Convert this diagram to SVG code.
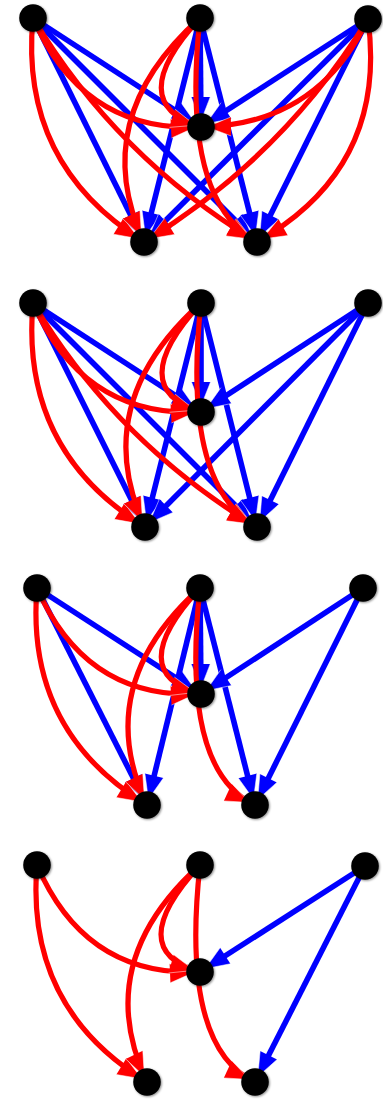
<svg xmlns="http://www.w3.org/2000/svg" width="383" height="1100" viewBox="0 0 383 1100">
  <style>
    .blue { fill: none; stroke: #0000ff; stroke-width: 5.6; }
    .red { fill: none; stroke: #ff0000; stroke-width: 5.2; }
    .blue { marker-end: url(#arrow-blue); }
    .red { marker-end: url(#arrow-red); }
    .node circle { fill: #000; filter: url(#node-shadow); }
  </style>
  <defs>
    <!-- arrowheads: path ends at the target centre, tip sits just inside the node rim -->
    <marker id="arrow-blue" markerUnits="userSpaceOnUse" orient="auto" refX="30" refY="0" markerWidth="40" markerHeight="40" overflow="visible">
      <polygon points="0,-9.5 24,0 0,9.5" fill="#0000ff"/>
      <polyline points="0,-9.5 24,0 0,9.5" fill="none" stroke="#fff" stroke-width="0.8" stroke-opacity="0.6"/>
    </marker>
    <marker id="arrow-red" markerUnits="userSpaceOnUse" orient="auto" refX="30" refY="0" markerWidth="40" markerHeight="40" overflow="visible">
      <polygon points="0,-9.5 24,0 0,9.5" fill="#ff0000"/>
      <polyline points="0,-9.5 24,0 0,9.5" fill="none" stroke="#fff" stroke-width="0.8" stroke-opacity="0.6"/>
    </marker>
    <filter id="node-shadow" x="-50%" y="-50%" width="200%" height="200%">
      <feDropShadow dx="1" dy="1" stdDeviation="1.2" flood-color="#000" flood-opacity="0.45"/>
    </filter>
  </defs>

  <!-- ===== graph 1 ===== -->
  <g id="graph1">
    <g id="graph1-edges">
      <path class="blue" d="M33,18 L201,127"/>
      <path class="blue" d="M33,18 L144,242"/>
      <path class="blue" d="M33,18 L257,242"/>
      <path class="blue" d="M200,18 L144,242"/>
      <path class="blue" d="M200,18 L201,127"/>
      <path class="blue" d="M200,18 L257,242"/>
      <path class="blue" d="M368,19 L201,127"/>
      <path class="blue" d="M368,19 L144,242"/>
      <path class="blue" d="M368,19 L257,242"/>
      <path class="red" d="M33,18 Q19,164 144,242"/>
      <path class="red" d="M33,18 Q83,133 201,127"/>
      <path class="red" d="M33,18 Q117,158 257,242"/>
      <path class="red" d="M200,18 Q87,119 144,242"/>
      <path class="red" d="M200,18 Q122,103 201,127"/>
      <path class="red" d="M200,18 Q180,200 257,242"/>
      <path class="red" d="M368,19 Q318,125 201,127"/>
      <path class="red" d="M368,19 Q283,157 144,242"/>
      <path class="red" d="M368,19 Q388,168 257,242"/>
    </g>
    <g id="graph1-a" class="node"><circle cx="33" cy="18" r="13.8"/></g>
    <g id="graph1-b" class="node"><circle cx="200" cy="18" r="13.8"/></g>
    <g id="graph1-c" class="node"><circle cx="368" cy="19" r="13.8"/></g>
    <g id="graph1-m" class="node"><circle cx="201" cy="127" r="13.8"/></g>
    <g id="graph1-l" class="node"><circle cx="144" cy="242" r="13.8"/></g>
    <g id="graph1-r" class="node"><circle cx="257" cy="242" r="13.8"/></g>
  </g>

  <!-- ===== graph 2 ===== -->
  <g id="graph2">
    <g id="graph2-edges">
      <path class="blue" d="M33,303 L201,412"/>
      <path class="blue" d="M33,303 L145,527"/>
      <path class="blue" d="M33,303 L257,527"/>
      <path class="blue" d="M201,303 L145,527"/>
      <path class="blue" d="M201,303 L201,412"/>
      <path class="blue" d="M201,303 L257,527"/>
      <path class="blue" d="M368,303 L201,412"/>
      <path class="blue" d="M368,303 L145,527"/>
      <path class="blue" d="M368,303 L257,527"/>
      <path class="red" d="M33,303 Q20,450 145,527"/>
      <path class="red" d="M33,303 Q83,418 201,412"/>
      <path class="red" d="M33,303 Q117,443 257,527"/>
      <path class="red" d="M201,303 Q88,404 145,527"/>
      <path class="red" d="M201,303 Q123,388 201,412"/>
      <path class="red" d="M201,303 Q181,485 257,527"/>
    </g>
    <g id="graph2-a" class="node"><circle cx="33" cy="303" r="13.8"/></g>
    <g id="graph2-b" class="node"><circle cx="201" cy="303" r="13.8"/></g>
    <g id="graph2-c" class="node"><circle cx="368" cy="303" r="13.8"/></g>
    <g id="graph2-m" class="node"><circle cx="201" cy="412" r="13.8"/></g>
    <g id="graph2-l" class="node"><circle cx="145" cy="527" r="13.8"/></g>
    <g id="graph2-r" class="node"><circle cx="257" cy="527" r="13.8"/></g>
  </g>

  <!-- ===== graph 3 ===== -->
  <g id="graph3">
    <g id="graph3-edges">
      <path class="blue" d="M37,588 L201,694"/>
      <path class="blue" d="M37,588 L147,805"/>
      <path class="blue" d="M200,588 L147,805"/>
      <path class="blue" d="M200,588 L201,694"/>
      <path class="blue" d="M200,588 L255,805"/>
      <path class="blue" d="M363,588 L201,694"/>
      <path class="blue" d="M363,588 L255,805"/>
      <path class="red" d="M37,588 Q25,731 147,805"/>
      <path class="red" d="M37,588 Q86,700 201,694"/>
      <path class="red" d="M200,588 Q91,686 147,805"/>
      <path class="red" d="M200,588 Q122,673 201,694"/>
      <path class="red" d="M200,588 Q180,770 255,805"/>
    </g>
    <g id="graph3-a" class="node"><circle cx="37" cy="588" r="13.8"/></g>
    <g id="graph3-b" class="node"><circle cx="200" cy="588" r="13.8"/></g>
    <g id="graph3-c" class="node"><circle cx="363" cy="588" r="13.8"/></g>
    <g id="graph3-m" class="node"><circle cx="201" cy="694" r="13.8"/></g>
    <g id="graph3-l" class="node"><circle cx="147" cy="805" r="13.8"/></g>
    <g id="graph3-r" class="node"><circle cx="255" cy="805" r="13.8"/></g>
  </g>

  <!-- ===== graph 4 ===== -->
  <g id="graph4">
    <g id="graph4-edges">
      <path class="blue" d="M365,866 L200,972"/>
      <path class="blue" d="M365,866 L255,1082"/>
      <path class="red" d="M37,865 Q25,1008 147,1082"/>
      <path class="red" d="M37,865 Q85,977 200,972"/>
      <path class="red" d="M200,865 Q91,963 147,1082"/>
      <path class="red" d="M200,865 Q122,950 200,972"/>
      <path class="red" d="M200,865 Q180,1047 255,1082"/>
    </g>
    <g id="graph4-a" class="node"><circle cx="37" cy="865" r="13.8"/></g>
    <g id="graph4-b" class="node"><circle cx="200" cy="865" r="13.8"/></g>
    <g id="graph4-c" class="node"><circle cx="365" cy="866" r="13.8"/></g>
    <g id="graph4-m" class="node"><circle cx="200" cy="972" r="13.8"/></g>
    <g id="graph4-l" class="node"><circle cx="147" cy="1082" r="13.8"/></g>
    <g id="graph4-r" class="node"><circle cx="255" cy="1082" r="13.8"/></g>
  </g>
</svg>
